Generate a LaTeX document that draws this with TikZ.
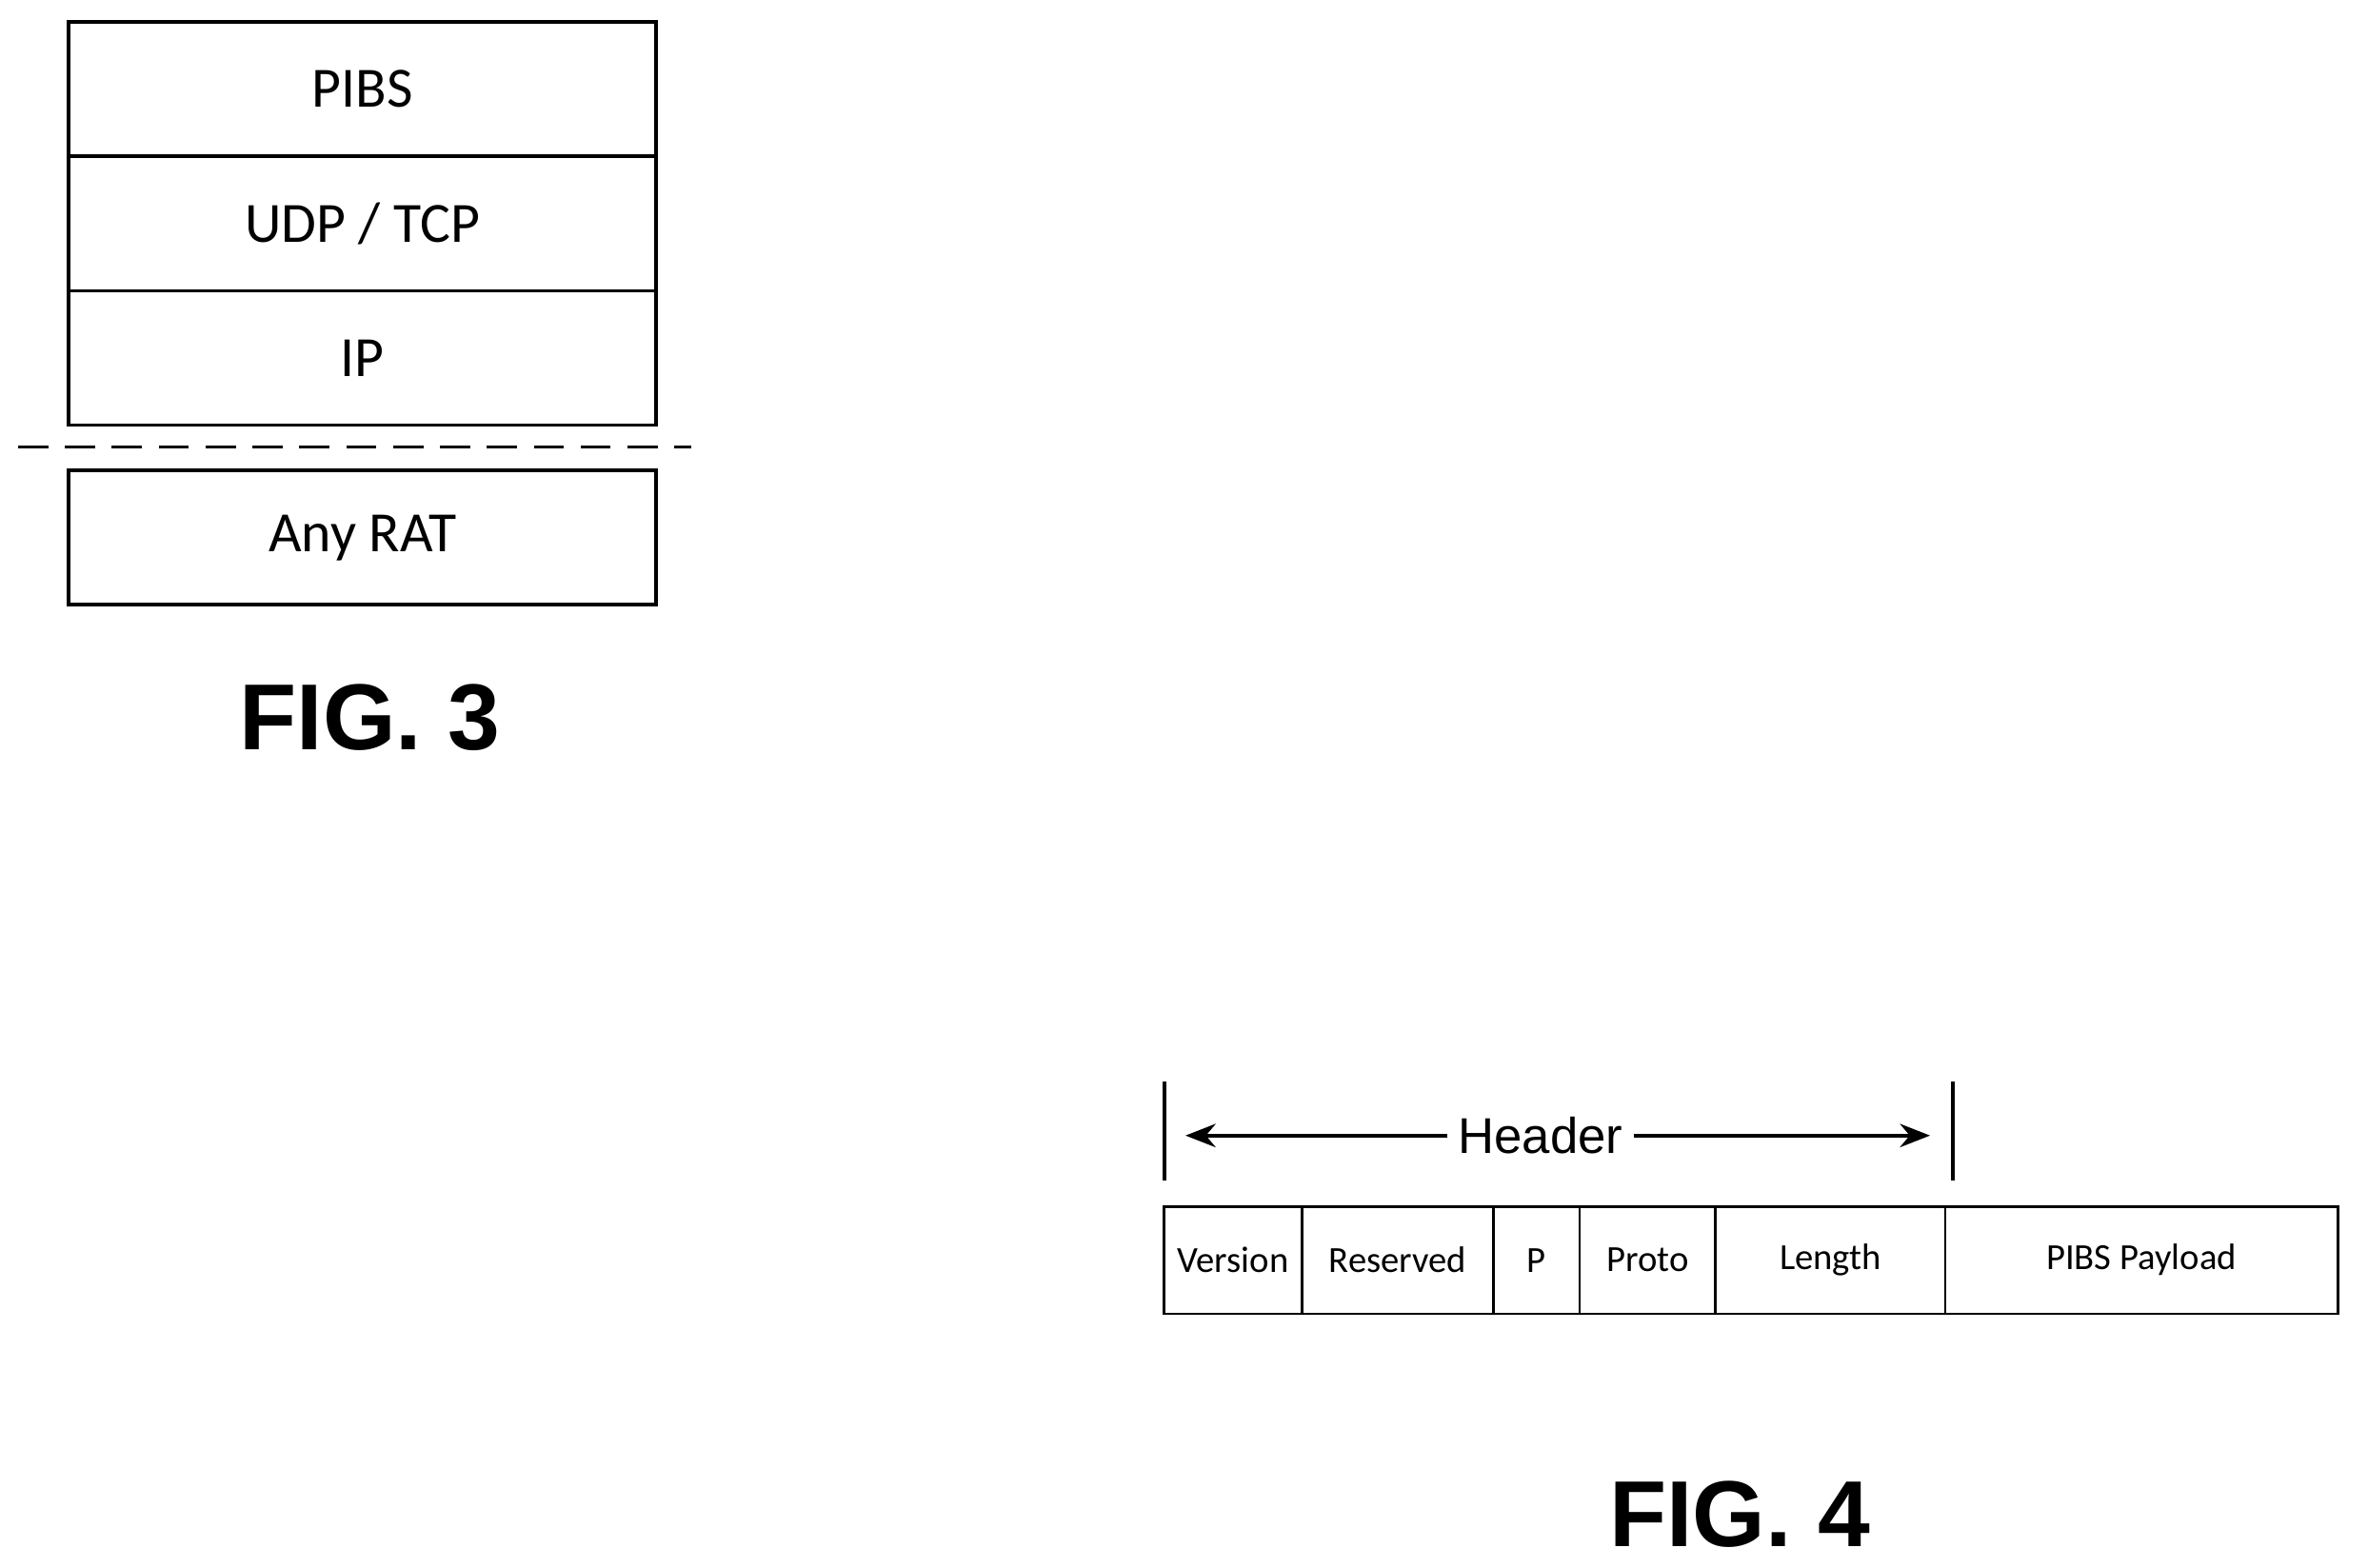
\documentclass[tikz,border=0pt]{standalone}
\usepackage{fontspec}
\setmainfont{Carlito}
\newfontfamily\figfont{Liberation Sans}
\usetikzlibrary{arrows.meta,positioning}
\begin{document}
\begin{tikzpicture}[x=0.01586cm,y=-0.01586cm]
	\tikzstyle{layer}=[draw, line width=1pt, minimum width=389*0.01586cm, minimum height=89*0.01586cm, font=\fontsize{17}{20}\selectfont, inner sep=0pt, outer sep=0pt]
	\tikzstyle{field}=[draw, line width=0.8pt, minimum height=71*0.01586cm, font=\fontsize{11}{13}\selectfont, inner sep=0pt, outer sep=0pt]
	\tikzstyle{figlabel}=[font=\figfont\bfseries\fontsize{28}{32}\selectfont]
	\useasboundingbox (0,0) rectangle (1568,1038);
	% FIG. 3 protocol stack
	\node [layer] (pibs) at (240,59) {PIBS};
	\node [layer, below=0pt of pibs] (udp) {UDP / TCP};
	\node [layer, below=0pt of udp] (ip) {IP};
	\node [layer] (rat) at (240,356) {Any RAT};
	\coordinate (dl) at (12,296);
	\coordinate (dr) at (458,296);
	\draw [line width=1pt, dash pattern=on 9pt off 5pt] (dl) -- (dr);
	\node [figlabel] (fig3) at (245,475) {FIG. 3};
	% FIG. 4 header format
	\node [field, minimum width=91*0.01586cm, anchor=north west] (ver) at (771,799) {Version};
	\node [field, minimum width=127*0.01586cm, right=0pt of ver] (res) {Reserved};
	\node [field, minimum width=57*0.01586cm, right=0pt of res] (p) {P};
	\node [field, minimum width=90*0.01586cm, right=0pt of p] (proto) {Proto};
	\node [field, minimum width=152*0.01586cm, right=0pt of proto] (len) {Length};
	\node [field, minimum width=260*0.01586cm, right=0pt of len] (pay) {PIBS Payload};
	\coordinate (tl1) at (771,716);
	\coordinate (tl2) at (771,782);
	\coordinate (tr1) at (1293,716);
	\coordinate (tr2) at (1293,782);
	\draw [line width=1pt] (tl1) -- (tl2);
	\draw [line width=1pt] (tr1) -- (tr2);
	\node [font=\figfont\fontsize{15}{18}\selectfont, fill=white, inner sep=3pt] (hdr) at (1020,752) {Header};
	\coordinate (al) at (785,752);
	\coordinate (ar) at (1278,752);
	\draw [line width=1pt, -{Stealth[length=9pt,width=7pt]}] (hdr) -- (al);
	\draw [line width=1pt, -{Stealth[length=9pt,width=7pt]}] (hdr) -- (ar);
	\node [figlabel] (fig4) at (1152,1003) {FIG. 4};
\end{tikzpicture}
\end{document}
